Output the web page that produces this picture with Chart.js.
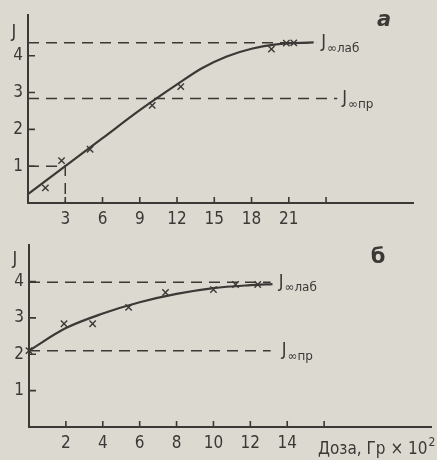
<!DOCTYPE html>
<html>
<head>
<meta charset="utf-8">
<script src="https://cdn.jsdelivr.net/npm/chart.js@4.4.1/dist/chart.umd.min.js"></script>
<style>
  html, body { margin: 0; padding: 0; background: #dcd9d1; }
  body { width: 437px; height: 460px; overflow: hidden; position: relative; }
  canvas { position: absolute; left: 0; }
  #chartA { top: 0; }
  #chartB { top: 230px; }
</style>
</head>
<body>
<canvas id="chartA" width="437" height="232"></canvas>
<canvas id="chartB" width="437" height="230"></canvas>
<script>
// panel a
const aDoseTicks = [3, 6, 9, 12, 15, 18, 21, 24];
const aDoseLabels = ['3', '6', '9', '12', '15', '18', '21', ''];
const aJTicks = [1, 2, 3, 4];
const aMeasDose = [1.4, 2.7, 5.0, 10.0, 12.3, 19.6, 20.8, 21.4];
const aMeasJ = [0.41, 1.15, 1.46, 2.65, 3.16, 4.18, 4.34, 4.35];
const aFitDose = [0, 3, 6, 9, 12, 14, 16, 18, 20, 23];
const aFitJ = [0.24, 1.0, 1.76, 2.52, 3.22, 3.66, 3.98, 4.19, 4.31, 4.36];
const aJLab = 4.35;
const aJPr = 2.84;
const aLabEnd = 23.2;
const aPrEnd = 24.9;
const aGuideDose = [0, 3, 3];
const aGuideJ = [1, 1, 0];

// panel б
const bDoseTicks = [2, 4, 6, 8, 10, 12, 14, 16];
const bDoseLabels = ['2', '4', '6', '8', '10', '12', '14', ''];
const bJTicks = [1, 2, 3, 4];
const bMeasDose = [0, 1.9, 3.45, 5.4, 7.4, 10.0, 11.2, 12.4];
const bMeasJ = [2.1, 2.84, 2.84, 3.29, 3.70, 3.78, 3.92, 3.92];
const bFitDose = [0, 2, 4, 6, 8, 10, 12, 13.2];
const bFitJ = [2.1, 2.72, 3.12, 3.43, 3.66, 3.82, 3.9, 3.93];
const bJLab = 3.98;
const bJPr = 2.1;
const bLabEnd = 13.1;
const bPrEnd = 13.1;

const ink = '#3a3936';
const tickFont = { family: "'DejaVu Sans Condensed', 'Liberation Sans Narrow', sans-serif", size: 17 };

const pts = (xs, ys) => xs.map((x, i) => ({ x, y: ys[i] }));

// short tick marks pointing into the plot
const innerTicks = {
    id: 'innerTicks',
    afterDraw(chart) {
        const { ctx, scales: { x, y } } = chart;
        ctx.save();
        ctx.strokeStyle = ink;
        ctx.lineWidth = 1.6;
        ctx.beginPath();
        x.ticks.forEach(t => {
            const px = x.getPixelForValue(t.value);
            ctx.moveTo(px, y.bottom);
            ctx.lineTo(px, y.bottom - 6);
        });
        y.ticks.forEach(t => {
            const py = y.getPixelForValue(t.value);
            ctx.moveTo(x.left, py);
            ctx.lineTo(x.left + 7, py);
        });
        ctx.stroke();
        ctx.restore();
    }
};

// J label with a subscript, placed after a data point
function drawJ(ctx, px, py, sub) {
    ctx.font = "18px 'DejaVu Sans Condensed', sans-serif";
    ctx.textBaseline = 'middle';
    ctx.textAlign = 'left';
    ctx.fillText('J', px, py);
    const w = ctx.measureText('J').width;
    ctx.font = "12px 'DejaVu Sans', sans-serif";
    ctx.fillText(sub, px + w + 1, py + 6);
}

const annotations = {
    id: 'annotations',
    afterDraw(chart, args, opts) {
        const { ctx, scales: { x, y } } = chart;
        ctx.save();
        ctx.fillStyle = ink;
        (opts.jLabels || []).forEach(l => {
            drawJ(ctx, x.getPixelForValue(l.x) + l.dx, y.getPixelForValue(l.y), l.sub);
        });
        // axis name
        ctx.font = "18px 'DejaVu Sans Condensed', sans-serif";
        ctx.textAlign = 'center';
        ctx.textBaseline = 'middle';
        ctx.fillText('J', x.left - 14, y.top + opts.jAxisDy);
        // panel letter
        ctx.font = opts.panelFont;
        ctx.fillText(opts.panel, opts.panelX, opts.panelY);
        if (opts.doseTitle) {
            ctx.font = "17px 'DejaVu Sans Condensed', sans-serif";
            ctx.textAlign = 'left';
            ctx.textBaseline = 'alphabetic';
            const t = 'Доза, Гр × 10';
            ctx.fillText(t, 318, chart.height - 6);
            const w = ctx.measureText(t).width;
            ctx.font = "12px 'DejaVu Sans Condensed', sans-serif";
            ctx.fillText('2', 318 + w + 1, chart.height - 14);
        }
        ctx.restore();
    }
};

function makeChart(id, cfg) {
    const dashed = (data) => ({
        type: 'line', data, borderColor: ink, borderWidth: 1.5, borderDash: [11, 7],
        pointRadius: 0, fill: false, tension: 0
    });
    return new Chart(document.getElementById(id), {
        type: 'line',
        data: {
            datasets: [
                dashed(pts([0, cfg.labEnd], [cfg.lab, cfg.lab])),
                dashed(pts([0, cfg.prEnd], [cfg.pr, cfg.pr])),
                ...(cfg.guide ? [dashed(cfg.guide)] : []),
                {
                    data: cfg.fit, borderColor: ink, borderWidth: 2.2, pointRadius: 0,
                    cubicInterpolationMode: 'monotone', fill: false
                },
                {
                    type: 'scatter', data: cfg.meas, showLine: false,
                    pointStyle: 'crossRot', pointRadius: 4.5, borderWidth: 1.4,
                    borderColor: ink, pointBorderColor: ink
                }
            ]
        },
        options: {
            responsive: false,
            animation: false,
            clip: false,
            layout: { padding: cfg.padding },
            plugins: {
                legend: { display: false },
                tooltip: { enabled: false },
                annotations: cfg.ann
            },
            scales: {
                x: {
                    type: 'linear', min: 0, max: cfg.xMax,
                    grid: { display: false, drawTicks: false },
                    border: { display: true, color: ink, width: 2 },
                    afterBuildTicks: s => { s.ticks = cfg.xTicks.map(v => ({ value: v })); },
                    afterFit: s => { s.height = cfg.xHeight; },
                    ticks: {
                        color: ink, font: tickFont, padding: 6, maxRotation: 0, autoSkip: false,
                        callback: (v) => cfg.xLabels[cfg.xTicks.indexOf(v)]
                    }
                },
                y: {
                    type: 'linear', min: 0, max: cfg.yMax,
                    grid: { display: false, drawTicks: false },
                    border: { display: true, color: ink, width: 2 },
                    afterBuildTicks: s => { s.ticks = cfg.yTicks.map(v => ({ value: v })); },
                    afterFit: s => { s.width = cfg.yWidth; },
                    ticks: { color: ink, font: tickFont, padding: 5 }
                }
            }
        },
        plugins: [innerTicks, annotations]
    });
}

makeChart('chartA', {
    lab: aJLab, pr: aJPr, labEnd: aLabEnd, prEnd: aPrEnd,
    guide: pts(aGuideDose, aGuideJ),
    fit: pts(aFitDose, aFitJ), meas: pts(aMeasDose, aMeasJ),
    xMax: 31, yMax: 5.1, xTicks: aDoseTicks, xLabels: aDoseLabels, yTicks: aJTicks,
    padding: { left: 0, top: 13, right: 24, bottom: 0 }, xHeight: 29, yWidth: 28,
    ann: {
        jLabels: [
            { x: aLabEnd, y: aJLab, dx: 5, sub: '∞лаб' },
            { x: aPrEnd, y: aJPr, dx: 5, sub: '∞пр' }
        ],
        jAxisDy: 17, panel: 'а', panelFont: "italic bold 21px 'DejaVu Sans', sans-serif",
        panelX: 384, panelY: 21, doseTitle: false
    }
});

makeChart('chartB', {
    lab: bJLab, pr: bJPr, labEnd: bLabEnd, prEnd: bPrEnd,
    guide: null,
    fit: pts(bFitDose, bFitJ), meas: pts(bMeasDose, bMeasJ),
    xMax: 21.8, yMax: 5.0, xTicks: bDoseTicks, xLabels: bDoseLabels, yTicks: bJTicks,
    padding: { left: 0, top: 8, right: 4, bottom: 0 }, xHeight: 33, yWidth: 29,
    ann: {
        jLabels: [
            { x: bLabEnd, y: bJLab, dx: 8, sub: '∞лаб' },
            { x: bPrEnd, y: bJPr, dx: 11, sub: '∞пр' }
        ],
        jAxisDy: 14, panel: 'б', panelFont: "bold 21px 'DejaVu Sans', sans-serif",
        panelX: 378, panelY: 28, doseTitle: true
    }
});
</script>
</body>
</html>
